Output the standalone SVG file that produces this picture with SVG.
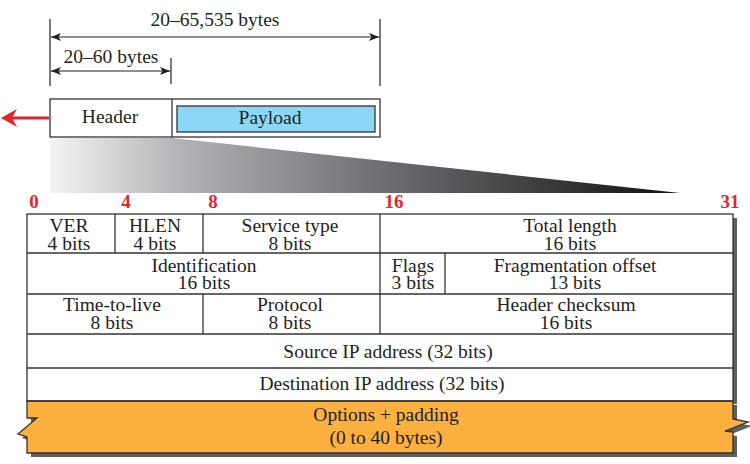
<svg xmlns="http://www.w3.org/2000/svg" width="750" height="464" viewBox="0 0 750 464">
<style>
text{font-family:"Liberation Serif","Times New Roman",serif;font-size:19.5px;fill:#231f20;text-anchor:middle}
.bit{font-weight:bold;fill:#e3262b;font-size:19px}
.ln{stroke:#333;stroke-width:1.3;fill:none}
.dim{stroke:#231f20;stroke-width:1.2;fill:none}
.shadow{fill:#5f5f5f}
</style>
<defs>
<marker id="ah" viewBox="0 0 10 8" refX="10" refY="4" markerWidth="10" markerHeight="8" markerUnits="userSpaceOnUse" orient="auto-start-reverse">
<path d="M0,0 L10,4 L0,8 L2.5,4 Z" fill="#231f20"/>
</marker>
<linearGradient id="grad" x1="50" y1="0" x2="680" y2="0" gradientUnits="userSpaceOnUse">
<stop offset="0" stop-color="#f4f4f4"/>
<stop offset="0.2" stop-color="#b4b5b8"/>
<stop offset="0.5" stop-color="#737478"/>
<stop offset="1" stop-color="#121012"/>
</linearGradient>
</defs>

<!-- gradient expansion -->
<polygon points="50,138 172,138 680,193 50,193" fill="url(#grad)"/>

<!-- datagram -->
<g id="datagram">
<rect x="50" y="99" width="330" height="38" fill="#fff" stroke="#333" stroke-width="1.3"/>
<line class="ln" x1="172" y1="99" x2="172" y2="137"/>
</g>
<g id="header"><text x="110" y="123">Header</text></g>
<g id="payload">
<rect x="177" y="106" width="198" height="26" fill="#8dd7f6" stroke="#333" stroke-width="1.3"/>
<text x="270" y="124">Payload</text>
</g>

<!-- connectors / dimensions -->
<g id="connectors">
<line class="dim" x1="50" y1="19" x2="50" y2="86"/>
<line class="dim" x1="380" y1="19" x2="380" y2="86"/>
<line class="dim" x1="171" y1="58" x2="171" y2="84"/>
<line class="dim" x1="51" y1="37" x2="379" y2="37" marker-start="url(#ah)" marker-end="url(#ah)"/>
<line class="dim" x1="51" y1="71" x2="170" y2="71" marker-start="url(#ah)" marker-end="url(#ah)"/>
<line x1="49" y1="118" x2="12" y2="118" stroke="#e3262b" stroke-width="3"/>
<polygon points="1,118 17,109 12,118 17,127" fill="#e3262b"/>
</g>
<g id="dim-labels">
<text x="215" y="26">20–65,535 bytes</text>
<text x="111" y="63">20–60 bytes</text>
</g>

<!-- bit labels -->
<g id="bits">
<text class="bit" x="34" y="208">0</text>
<text class="bit" x="126" y="208">4</text>
<text class="bit" x="213" y="208">8</text>
<text class="bit" x="394" y="208">16</text>
<text class="bit" x="730" y="208">31</text>
</g>

<!-- shadows -->
<rect class="shadow" x="31" y="218" width="706" height="186"/>
<polygon class="shadow" transform="translate(4,4)" points="27,401 733,401 733,419 748,422 725,431 733,432 733,453 27,453 27,437 18,434 37,418 27,418"/>

<!-- table -->
<rect x="27" y="214" width="706" height="187" fill="#fff"/>
<g id="options">
<polygon points="27,401 733,401 733,419 748,422 725,431 733,432 733,453 27,453 27,437 18,434 37,418 27,418" fill="#fbb040" stroke="#333" stroke-width="1.3"/>
<text x="386" y="421">Options + padding</text>
<text x="386" y="444">(0 to 40 bytes)</text>
</g>
<g id="grid">
<rect class="ln" x="27" y="214" width="706" height="187"/>
<line class="ln" x1="27" y1="253" x2="733" y2="253"/>
<line class="ln" x1="27" y1="294" x2="733" y2="294"/>
<line class="ln" x1="27" y1="334" x2="733" y2="334"/>
<line class="ln" x1="27" y1="368" x2="733" y2="368"/>
<line class="ln" x1="115" y1="214" x2="115" y2="253"/>
<line class="ln" x1="203" y1="214" x2="203" y2="253"/>
<line class="ln" x1="380" y1="214" x2="380" y2="334"/>
<line class="ln" x1="445" y1="253" x2="445" y2="294"/>
<line class="ln" x1="203" y1="294" x2="203" y2="334"/>
</g>
<g id="ver"><text x="69" y="232">VER</text><text x="69" y="250">4 bits</text></g>
<g id="hlen"><text x="155" y="232">HLEN</text><text x="155" y="250">4 bits</text></g>
<g id="service"><text x="290" y="232">Service type</text><text x="290" y="250">8 bits</text></g>
<g id="total"><text x="570" y="232">Total length</text><text x="570" y="250">16 bits</text></g>
<g id="ident"><text x="204" y="272">Identification</text><text x="204" y="289">16 bits</text></g>
<g id="flags"><text x="413" y="272">Flags</text><text x="413" y="289">3 bits</text></g>
<g id="frag"><text x="575" y="272">Fragmentation offset</text><text x="575" y="289">13 bits</text></g>
<g id="ttl"><text x="112" y="311">Time-to-live</text><text x="112" y="329">8 bits</text></g>
<g id="protocol"><text x="290" y="311">Protocol</text><text x="290" y="329">8 bits</text></g>
<g id="checksum"><text x="566" y="311">Header checksum</text><text x="566" y="329">16 bits</text></g>
<g id="src"><text x="388" y="358">Source IP address (32 bits)</text></g>
<g id="dst"><text x="382" y="390">Destination IP address (32 bits)</text></g>
</svg>
